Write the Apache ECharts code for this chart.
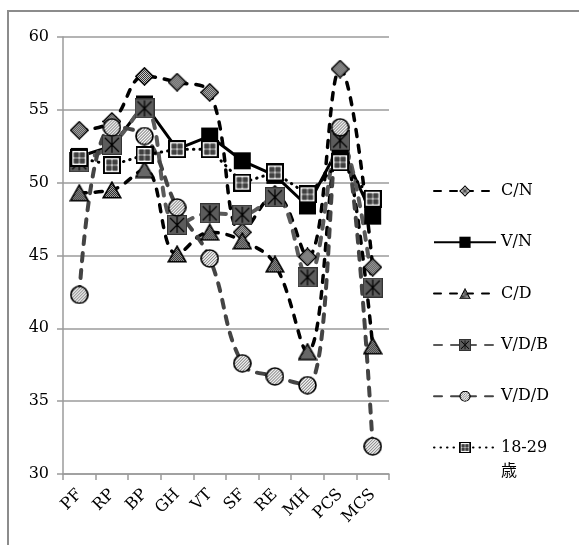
<!DOCTYPE html>
<html>
<head>
<meta charset="utf-8">
<script src="https://cdn.jsdelivr.net/npm/echarts@6/dist/echarts.min.js"></script>
<style>
  html, body { margin: 0; padding: 0; background: #fff; }
  #chart { width: 579px; height: 545px; }
</style>
</head>
<body>
<div id="chart"></div>
<script>
// Scale categories and group scores
const categories = ['PF', 'RP', 'BP', 'GH', 'VT', 'SF', 'RE', 'MH', 'PCS', 'MCS'];
const yTickValues = [30, 35, 40, 45, 50, 55, 60];

const cnValues   = [53.6, 54.2, 57.3, 56.9, 56.2, 46.6, 49.2, 44.9, 57.8, 44.2];
const vnValues   = [51.8, 52.5, 55.4, 52.3, 53.2, 51.5, 50.5, 48.4, 52.6, 47.7];
const cdValues   = [49.3, 49.5, 50.9, 45.1, 46.6, 46.0, 44.4, 38.4, 52.8, 38.8];
const vdbValues  = [51.4, 52.6, 55.1, 47.1, 47.9, 47.8, 49.0, 43.5, 52.9, 42.8];
const vddValues  = [42.3, 53.8, 53.2, 48.3, 44.8, 37.6, 36.7, 36.1, 53.8, 31.9];
const youngValues = [51.7, 51.2, 51.9, 52.3, 52.3, 50.0, 50.7, 49.2, 51.4, 48.9];

const FONT = "'DejaVu Serif', 'Liberation Serif', 'Noto Sans CJK JP', serif";

// ---- marker images drawn on small canvases ----
function makePattern(g, size, colorA, colorB) {
  const p = document.createElement('canvas');
  p.width = size * 2; p.height = size * 2;
  const pg = p.getContext('2d');
  pg.fillStyle = colorA; pg.fillRect(0, 0, size * 2, size * 2);
  pg.fillStyle = colorB;
  pg.fillRect(0, 0, size, size);
  pg.fillRect(size, size, size, size);
  return g.createPattern(p, 'repeat');
}
function marker(w, h, draw) {
  const c = document.createElement('canvas');
  c.width = w; c.height = h;
  draw(c.getContext('2d'), w, h);
  return 'image://' + c.toDataURL();
}

const diamondImg = marker(19, 19, (g, w, h) => {
  g.beginPath();
  g.moveTo(w / 2, 1); g.lineTo(w - 1, h / 2); g.lineTo(w / 2, h - 1); g.lineTo(1, h / 2);
  g.closePath();
  g.fillStyle = makePattern(g, 1, '#e6e6e6', '#1a1a1a');
  g.fill();
  g.lineWidth = 1.6; g.strokeStyle = '#000'; g.stroke();
});

const triangleImg = marker(20, 18, (g, w, h) => {
  g.beginPath();
  g.moveTo(w / 2, 1.2); g.lineTo(w - 1.2, h - 1.2); g.lineTo(1.2, h - 1.2);
  g.closePath();
  g.fillStyle = makePattern(g, 1, '#a8a8a8', '#262626');
  g.fill();
  g.lineWidth = 1.6; g.strokeStyle = '#000'; g.stroke();
});

const starSquareImg = marker(20, 20, (g, w, h) => {
  g.fillStyle = '#5c5c5c'; g.fillRect(0, 0, w, h);
  g.strokeStyle = '#333'; g.lineWidth = 1; g.strokeRect(0.5, 0.5, w - 1, h - 1);
  g.strokeStyle = '#000'; g.lineWidth = 1.2;
  g.beginPath();
  g.moveTo(3, 3); g.lineTo(w - 3, h - 3);
  g.moveTo(w - 3, 3); g.lineTo(3, h - 3);
  g.moveTo(w / 2, 2); g.lineTo(w / 2, h - 2);
  g.stroke();
});

const hatchCircleImg = marker(19, 19, (g, w, h) => {
  const r = w / 2 - 1;
  g.beginPath(); g.arc(w / 2, h / 2, r, 0, Math.PI * 2);
  g.fillStyle = '#f2f2f2'; g.fill();
  g.save(); g.clip();
  g.strokeStyle = '#6a6a6a'; g.lineWidth = 1;
  g.beginPath();
  for (let k = -h; k < w + h; k += 3) { g.moveTo(k, h); g.lineTo(k + h, 0); }
  g.stroke();
  g.restore();
  g.beginPath(); g.arc(w / 2, h / 2, r, 0, Math.PI * 2);
  g.lineWidth = 1.7; g.strokeStyle = '#000'; g.stroke();
});

const gridSquareImg = marker(18, 18, (g, w, h) => {
  g.fillStyle = '#fff'; g.fillRect(0, 0, w, h);
  g.lineWidth = 2; g.strokeStyle = '#000'; g.strokeRect(1, 1, w - 2, h - 2);
  const cells = [[3.5, 3.5], [9.5, 3.5], [3.5, 9.5], [9.5, 9.5]];
  cells.forEach(([cx, cy]) => {
    g.fillStyle = '#000'; g.fillRect(cx, cy, 5, 5);
    g.fillStyle = '#fff';
    g.fillRect(cx + 1, cy + 1, 1, 1); g.fillRect(cx + 3, cy + 1, 1, 1);
    g.fillRect(cx + 1, cy + 3, 1, 1); g.fillRect(cx + 3, cy + 3, 1, 1);
  });
});

function lineSeries(name, data, opts) {
  return Object.assign({
    name: name,
    type: 'line',
    data: data,
    showSymbol: true,
    showAllSymbol: true,
    animation: false,
    emphasis: { disabled: true }
  }, opts);
}

const series = [
  lineSeries('C/N', cnValues, {
    smooth: 0.4,
    symbol: diamondImg, symbolSize: [19, 19],
    itemStyle: { color: '#000' },
    lineStyle: { color: '#000', width: 3.5, type: [7, 9], cap: 'round' }
  }),
  lineSeries('V/N', vnValues, {
    symbol: 'rect', symbolSize: 17,
    itemStyle: { color: '#000' },
    lineStyle: { color: '#000', width: 3 }
  }),
  lineSeries('C/D', cdValues, {
    smooth: 0.4,
    symbol: triangleImg, symbolSize: [20, 18],
    itemStyle: { color: '#000' },
    lineStyle: { color: '#000', width: 3.5, type: [7, 9], cap: 'round' }
  }),
  lineSeries('V/D/B', vdbValues, {
    smooth: 0.4,
    symbol: starSquareImg, symbolSize: [20, 20],
    itemStyle: { color: '#5a5a5a' },
    lineStyle: { color: '#5a5a5a', width: 4, type: [8, 9], cap: 'round' }
  }),
  lineSeries('V/D/D', vddValues, {
    smooth: 0.4,
    symbol: hatchCircleImg, symbolSize: [19, 19],
    itemStyle: { color: '#444' },
    lineStyle: { color: '#444', width: 4, type: [8, 9], cap: 'round' }
  }),
  lineSeries('18-29歳', youngValues, {
    symbol: gridSquareImg, symbolSize: [18, 18],
    itemStyle: { color: '#000' },
    lineStyle: { color: '#000', width: 3, type: [0.5, 6], cap: 'round' }
  })
];

const chart = echarts.init(document.getElementById('chart'), null, { renderer: 'canvas' });
chart.setOption({
  backgroundColor: '#fff',
  animation: false,
  graphic: [{
    type: 'rect',
    shape: { x: 8, y: 11, width: 640, height: 620 },
    style: { fill: 'none', stroke: '#8c8c8c', lineWidth: 2 },
    silent: true
  }],
  grid: { left: 63, right: 190, top: 37, bottom: 71 },
  legend: {
    orient: 'vertical',
    left: 428,
    top: 174,
    padding: 5,
    itemWidth: 62,
    itemHeight: 14,
    itemGap: 27.3,
    selectedMode: false,
    data: series.map(s => s.name === '18-29歳'
      ? { name: s.name, textStyle: { padding: [0, 0, -24, 0] } }
      : s.name),
    formatter: name => name === '18-29歳' ? '{t|18-29}\n{t|歳}' : name,
    textStyle: {
      fontFamily: FONT, fontSize: 16, color: '#000', lineHeight: 24,
      rich: { t: { fontFamily: FONT, fontSize: 16, color: '#000', lineHeight: 24 } }
    }
  },
  xAxis: {
    type: 'category',
    data: categories,
    boundaryGap: true,
    axisLine: { lineStyle: { color: '#9b9b9b', width: 1.5 } },
    axisTick: { show: true, length: 6, lineStyle: { color: '#9b9b9b', width: 1.5 } },
    axisLabel: { rotate: 45, margin: 18, fontFamily: FONT, fontSize: 16, color: '#000', interval: 0 },
    splitLine: { show: false }
  },
  yAxis: {
    type: 'value',
    min: yTickValues[0],
    max: yTickValues[yTickValues.length - 1],
    interval: yTickValues[1] - yTickValues[0],
    axisLine: { show: true, lineStyle: { color: '#9b9b9b', width: 1.5 } },
    axisTick: { show: true, length: 6, lineStyle: { color: '#9b9b9b', width: 1.5 } },
    axisLabel: { margin: 14, fontFamily: FONT, fontSize: 16, color: '#000' },
    splitLine: { show: true, lineStyle: { color: '#9b9b9b', width: 1.5 } }
  },
  series: series
});
</script>
</body>
</html>
